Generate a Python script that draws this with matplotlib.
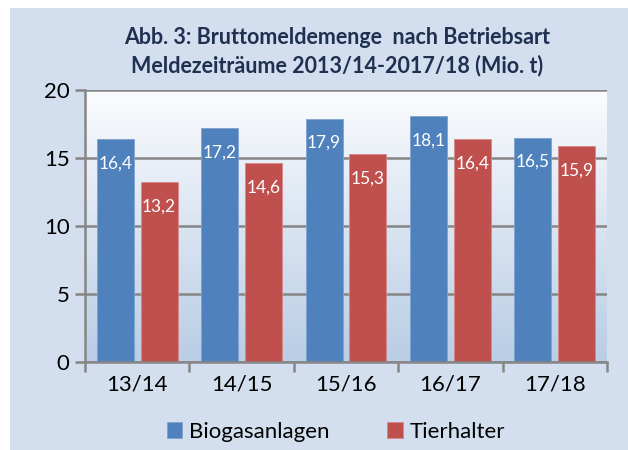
import numpy as np
import matplotlib
matplotlib.use("Agg")
import matplotlib.pyplot as plt
from matplotlib.patches import Rectangle
from matplotlib.colors import LinearSegmentedColormap

# data
periods = ["13/14", "14/15", "15/16", "16/17", "17/18"]
biogas = [16.4, 17.2, 17.9, 18.1, 16.5]
tierhalter = [13.2, 14.6, 15.3, 16.4, 15.9]
series_names = ["Biogasanlagen", "Tierhalter"]

plt.rcParams['font.family'] = ['Lato', 'DejaVu Sans']

fig = plt.figure(figsize=(6.28, 4.5), dpi=100)
fig.patch.set_facecolor('white')
# light blue chart background, white strip left/top
fig.patches.append(Rectangle((10 / 628, 0), 1, 1 - 8 / 450, transform=fig.transFigure,
                             facecolor='#D3DFEE', edgecolor='none', zorder=-10))

ax = fig.add_axes([85 / 628, 1 - 362 / 450, (607 - 85) / 628, (362 - 90) / 450])
ax.set_facecolor('none')

# gradient plot area: white on top, light blue at bottom
grad = np.linspace(0, 1, 256).reshape(-1, 1)
cmap = LinearSegmentedColormap.from_list('bg', ['#B9CDE5', '#FBFCFE'])
ax.imshow(grad, extent=[0, 1, 0, 1], transform=ax.transAxes, aspect='auto',
          cmap=cmap, origin='lower', zorder=0)

x = np.arange(len(periods))
w = 0.355
off = 0.21
b1 = ax.bar(x - off, biogas, w, color='#4F81BD', edgecolor='#7FA2CF', linewidth=0.6, zorder=3,
            label=series_names[0])
b2 = ax.bar(x + off, tierhalter, w, color='#C0504D', edgecolor='#D58885', linewidth=0.6, zorder=3,
            label=series_names[1])

for bars, vals in ((b1, biogas), (b2, tierhalter)):
    for r, v in zip(bars, vals):
        ax.text(r.get_x() + r.get_width() / 2, v - 1.8, f"{v:.1f}".replace('.', ','),
                ha='center', va='center', color='white', fontsize=12.5, zorder=4)

ax.set_xlim(-0.5, len(periods) - 0.5)
ax.set_ylim(0, 20)
ax.set_yticks([0, 5, 10, 15, 20])
ax.yaxis.grid(True, color='#868686', linewidth=1.8, zorder=1)
ax.set_axisbelow(False)

# category separator ticks on x
ax.set_xticks(np.arange(-0.5, len(periods)), minor=False)
ax.set_xticklabels([])
ax.set_xticks(x, minor=True)
ax.set_xticklabels(periods, minor=True, fontsize=16)
ax.tick_params(axis='x', which='major', length=7, width=1.8, color='#868686', direction='out')
ax.tick_params(axis='x', which='minor', length=0, pad=9)
ax.tick_params(axis='y', length=7, width=1.8, color='#868686', labelsize=16, pad=4)

for s in ('top', 'right'):
    ax.spines[s].set_visible(False)
for s in ('left', 'bottom'):
    ax.spines[s].set_color('#868686')
    ax.spines[s].set_linewidth(1.8)
    ax.spines[s].set_zorder(5)

fig.text(0.537, 1 - 38 / 450, "Abb. 3: Bruttomeldemenge  nach Betriebsart",
         ha='center', va='center', fontsize=15.5, fontweight='bold', color='#1F3050')
fig.text(0.537, 1 - 66 / 450, "Meldezeiträume 2013/14-2017/18 (Mio. t)",
         ha='center', va='center', fontsize=15.5, fontweight='bold', color='#1F3050')

fig.legend(handles=[b1, b2], loc='center', bbox_to_anchor=(0.535, 1 - 432 / 450), ncol=2,
           frameon=False, fontsize=16, handlelength=0.7, handleheight=0.7,
           handletextpad=0.3, columnspacing=2.6)

fig.savefig("out.png", dpi=100, facecolor=fig.get_facecolor())
